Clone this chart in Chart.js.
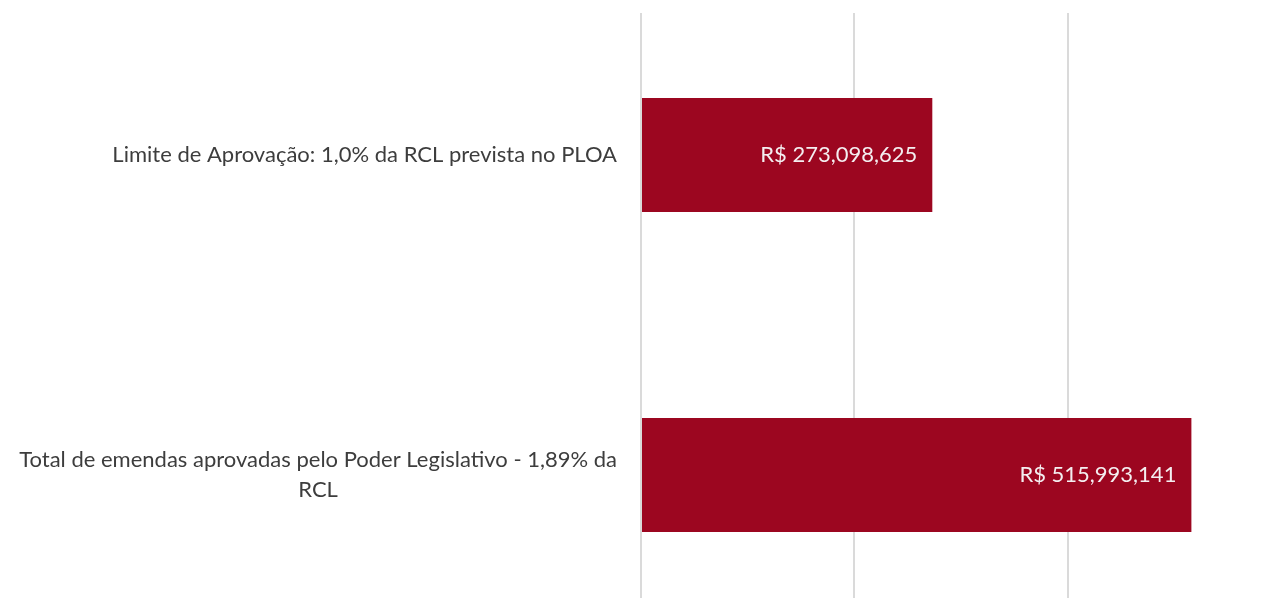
<!DOCTYPE html>
<html>
<head>
<meta charset="utf-8">
<script src="https://cdn.jsdelivr.net/npm/chart.js@4"></script>
<style>
    html, body { margin: 0; padding: 0; background: #fff; overflow: hidden; }
    #wrap { position: absolute; left: 0; top: -5px; width: 1290px; height: 640px; }
</style>
</head>
<body>
<div id="wrap"><canvas id="chart"></canvas></div>
<script>
// categories (each entry is the lines of the label)
const categories = [
    ['Limite de Aprovação: 1,0% da RCL prevista no PLOA'],
    ['Total de emendas aprovadas pelo Poder Legislativo - 1,89% da', 'RCL']
];
const values = [273098625, 515993141];
const xTicks = [0, 200000000, 400000000, 600000000];

const FONT = 'Lato';
const FONT_SIZE = 22;

function money(v) {
    return 'R$ ' + v.toLocaleString('en-US');
}

// vertical gridlines start a bit below the top of the plot
const gridTop = {
    id: 'gridTop',
    beforeDatasetsDraw(chart) {
        const a = chart.chartArea;
        chart.ctx.clearRect(a.left - 3, 0, a.right - a.left + 6, 18);
    }
};

// category labels: block right aligned, lines centred inside the block
const catLabels = {
    id: 'catLabels',
    afterDraw(chart) {
        const ctx = chart.ctx;
        const yScale = chart.scales.y;
        ctx.save();
        ctx.font = FONT_SIZE + 'px ' + FONT;
        ctx.fillStyle = '#3d3d3d';
        ctx.textAlign = 'center';
        ctx.textBaseline = 'middle';
        const lineH = 30;
        categories.forEach((lines, i) => {
            const y = yScale.getPixelForValue(i);
            const w = Math.max(...lines.map(l => ctx.measureText(l).width));
            const cx = chart.chartArea.left - 24 - w / 2;
            lines.forEach((l, j) => {
                ctx.fillText(l, cx, y + (j - (lines.length - 1) / 2) * lineH);
            });
        });
        ctx.restore();
    }
};

// value labels inside the end of each bar
const valueLabels = {
    id: 'valueLabels',
    afterDatasetsDraw(chart) {
        const ctx = chart.ctx;
        ctx.save();
        ctx.font = FONT_SIZE + 'px ' + FONT;
        ctx.fillStyle = '#f4eef0';
        ctx.textAlign = 'right';
        ctx.textBaseline = 'middle';
        chart.getDatasetMeta(0).data.forEach((bar, i) => {
            ctx.fillText(money(values[i]), bar.x - 15, bar.y);
        });
        ctx.restore();
    }
};

const chart = new Chart(document.getElementById('chart'), {
    type: 'bar',
    data: {
        labels: categories,
        datasets: [{
            data: values,
            backgroundColor: '#9c0620',
            borderWidth: 0,
            categoryPercentage: 1,
            barPercentage: 0.356
        }]
    },
    options: {
        indexAxis: 'y',
        responsive: true,
        maintainAspectRatio: false,
        animation: false,
        layout: { padding: { left: 0, right: 9, top: 0, bottom: 0 } },
        plugins: {
            legend: { display: false },
            tooltip: { enabled: false }
        },
        scales: {
            x: {
                min: 0,
                max: 600000000,
                afterBuildTicks: scale => {
                    scale.ticks = xTicks.map(v => ({ value: v }));
                },
                ticks: { display: false },
                grid: { color: '#dadada', lineWidth: 2, drawTicks: false },
                border: { display: false }
            },
            y: {
                ticks: { display: false },
                grid: { display: false },
                border: { display: false },
                afterFit: scale => { scale.width = 641; }
            }
        }
    },
    plugins: [gridTop, catLabels, valueLabels]
});
</script>
</body>
</html>
